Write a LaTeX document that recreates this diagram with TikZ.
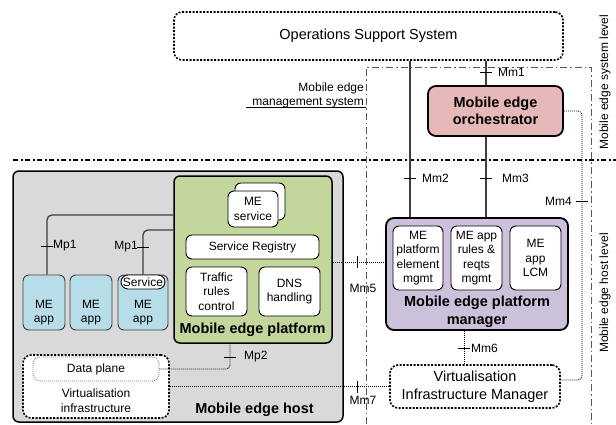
\documentclass[tikz,border=0pt]{standalone}
\usepackage{fontspec}
\setmainfont{Liberation Sans}
\usetikzlibrary{calc}
\definecolor{orchfill}{HTML}{E6B9B8}
\definecolor{platfill}{HTML}{C3D69B}
\definecolor{appfill}{HTML}{B7DDE8}
\definecolor{pmfill}{HTML}{CCC1DA}
\definecolor{hostfill}{HTML}{D9D9D9}
\definecolor{linegray}{HTML}{3F3F3F}
\definecolor{mgmtgray}{HTML}{595959}
\newcommand\smallfs{\fontsize{12}{14.5}\selectfont}
\newcommand\bigfs{\fontsize{14.5}{17.5}\selectfont}
\tikzset{
  box/.style={draw=black, rounded corners=6pt, inner sep=0pt, align=center, font=\smallfs},
  wbox/.style={box, fill=white, line width=0.9pt},
  appbox/.style={box, fill=appfill, draw=linegray, line width=0.9pt},
  bigbox/.style={box, line width=1.8pt, rounded corners=8pt, font=\bigfs\bfseries},
  dotbox/.style={draw=black, fill=white, line width=1.6pt, dash pattern=on 2pt off 1.5pt, rounded corners=8pt, inner sep=0pt, align=center, font=\bigfs},
  solidcon/.style={draw=linegray, line width=1.3pt},
  dotcon/.style={draw=black, line width=0.8pt, dash pattern=on 1pt off 1pt},
  tickmark/.style={draw=black, line width=0.9pt},
  lbl/.style={font=\smallfs, inner sep=1pt},
  boldlbl/.style={font=\bigfs\bfseries, inner sep=0pt, align=center},
}
\begin{document}
\begin{tikzpicture}[x=1pt,y=-1pt]
\useasboundingbox (0,0) rectangle (616,424);
% helper x-coordinates
\coordinate (c410) at (410,0);
\coordinate (c486) at (486,0);
\coordinate (c582) at (582,0);
\coordinate (c464) at (464,0);

% management system box (dash-dot)
\draw[mgmtgray, line width=0.8pt, dash pattern=on 7pt off 3pt on 1.5pt off 3pt] (366,424) -- (366,67) -- (591,67) -- (591,424);
% level separator
\draw[black, line width=2.6pt, dash pattern=on 5pt off 2.5pt on 2pt off 2.5pt] (13,160) -- (616,160);

% Operations Support System
\node[dotbox, minimum width=389pt, minimum height=48pt] (oss) at (368.5,36) {Operations Support System};

% management system label
\node[font=\smallfs, inner sep=0pt, align=right, anchor=south east] (mesys) at (364,108.5) {Mobile edge\\management system};
\draw[black, line width=0.8pt] (246,107) -- (366,107);

% orchestrator
\node[bigbox, fill=orchfill, minimum width=135pt, minimum height=50pt] (orch) at (495.5,111) {Mobile edge\\orchestrator};

% Mobile edge host
\node[box, fill=hostfill, line width=1.5pt, minimum width=330pt, minimum height=251pt] (host) at (178,296.5) {};
\node[boldlbl] (hostlbl) at (254.5,410) {Mobile edge host};

% platform
\node[box, fill=platfill, line width=1.5pt, minimum width=158pt, minimum height=167pt] (plat) at (253,259.5) {};
\node[wbox, minimum width=50pt, minimum height=37pt] (svcb) at (260,201.5) {};
\node[wbox, minimum width=50pt, minimum height=36pt] (svcf) at (253,209) {ME\\service};
\node[wbox, minimum width=133pt, minimum height=24pt] (reg) at (252.5,247) {Service Registry};
\node[wbox, minimum width=61pt, minimum height=49pt] (traf) at (216.5,291.5) {Traffic\\rules\\control};
\node[wbox, minimum width=61pt, minimum height=49pt] (dns) at (289.5,291.5) {DNS\\handling};
\node[boldlbl] (platlbl) at (252.5,330) {Mobile edge platform};

% ME apps
\node[appbox, minimum width=42pt, minimum height=55pt] (app1) at (44,302.5) {};
\node[appbox, minimum width=42pt, minimum height=55pt] (app2) at (91,302.5) {};
\node[appbox, minimum width=50pt, minimum height=55pt] (app3) at (143,302.5) {};
\node[font=\smallfs, align=center, inner sep=0pt] (app1t) at (44,312.5) {ME\\app};
\node[font=\smallfs, align=center, inner sep=0pt] (app2t) at (91,312.5) {ME\\app};
\node[font=\smallfs, align=center, inner sep=0pt] (app3t) at (143,312.5) {ME\\app};
\node[wbox, rounded corners=7pt, minimum width=44pt, minimum height=14pt] (svc) at (143,282) {Service};

% Mp1
\draw[solidcon, rounded corners=5pt] ($(app1.north)+(3,0)$) |- ($(plat.west)+(0,-44.5)$);
\draw[solidcon, rounded corners=5pt] (svc.north) |- ($(plat.west)+(0,-29.5)$);
\draw[tickmark] (41,246) -- (53,246);
\node[lbl, anchor=west] (mp1a) at (52,246) {Mp1};
\draw[tickmark] (137,247) -- (149,247);
\node[lbl, anchor=east] (mp1b) at (139,247) {Mp1};

% virtualisation infrastructure
\node[dotbox, minimum width=146pt, minimum height=63pt] (vi) at (96,386.5) {};
\node[draw=gray, fill=white, line width=0.8pt, dash pattern=on 1pt off 1pt, rounded corners=7pt, minimum width=126pt, minimum height=24pt, font=\smallfs, inner sep=0pt] (dp) at (96,369) {Data plane};
\node[font=\smallfs, align=center, inner sep=0pt] (vit) at (96,400.5) {Virtualisation\\infrastructure};

% Mp2
\draw[dotcon, rounded corners=4pt] (dp.east) -| ($(plat.south)+(-23,0)$);
\draw[tickmark] (224,357) -- (236,357);
\node[lbl, anchor=west] (mp2) at (243,357) {Mp2};

% platform manager
\node[bigbox, fill=pmfill, minimum width=182pt, minimum height=112pt] (pm) at (477,274) {};
\node[wbox, minimum width=50pt, minimum height=64pt] (pme) at (418,258) {ME\\platform\\element\\mgmt};
\node[wbox, minimum width=51pt, minimum height=64pt] (rules) at (476.5,258) {ME app\\rules \&\\reqts\\mgmt};
\node[wbox, minimum width=51pt, minimum height=64pt] (lcm) at (535.5,258) {ME\\app\\LCM};
\node[boldlbl] (pmlbl) at (477,312) {Mobile edge platform\\manager};

% VIM
\node[dotbox, minimum width=170pt, minimum height=43pt] (vim) at (475,386.5) {Virtualisation\\Infrastructure Manager};

% Mm1, Mm2, Mm3
\draw[solidcon] (oss.south -| c486) -- (orch.north -| c486);
\draw[tickmark] (480,72) -- (492,72);
\node[lbl, anchor=west] (mm1) at (497,72) {Mm1};
\draw[solidcon] (oss.south -| c410) -- (pm.north -| c410);
\draw[tickmark] (404,178) -- (416,178);
\node[lbl, anchor=west] (mm2) at (421,178) {Mm2};
\draw[solidcon] (orch.south -| c486) -- (pm.north -| c486);
\draw[tickmark] (480,178) -- (492,178);
\node[lbl, anchor=west] (mm3) at (501,178) {Mm3};

% Mm4
\coordinate (vimr) at ($(vim.east)+(0,-6.5)$);
\draw[dotcon, rounded corners=4pt] (orch.east) -| (c582 |- vimr) -- (vimr);
\draw[tickmark] (576,201) -- (588,201);
\node[lbl, anchor=east] (mm4) at (573,201) {Mm4};

% Mm5
\coordinate (m5) at ($(plat.east)+(0,2.5)$);
\draw[dotcon] (m5) -- (m5 -| pm.west);
\draw[tickmark] (357,256) -- (357,268);
\node[lbl] (mm5) at (363,288) {Mm5};

% Mm6
\draw[dotcon] (pm.south -| c464) -- (vim.north -| c464);
\draw[tickmark] (458,348) -- (470,348);
\node[lbl, anchor=west] (mm6) at (470,348) {Mm6};

% Mm7
\draw[dotcon] (vi.east) -- (vi.east -| vim.west);
\draw[tickmark] (357,381) -- (357,393);
\node[lbl] (mm7) at (363,400) {Mm7};

% level labels
\node[lbl, rotate=90] (syslvl) at (605,82) {Mobile edge system level};
\node[lbl, rotate=90] (hostlvl) at (605,293) {Mobile edge host level};
\end{tikzpicture}
\end{document}
